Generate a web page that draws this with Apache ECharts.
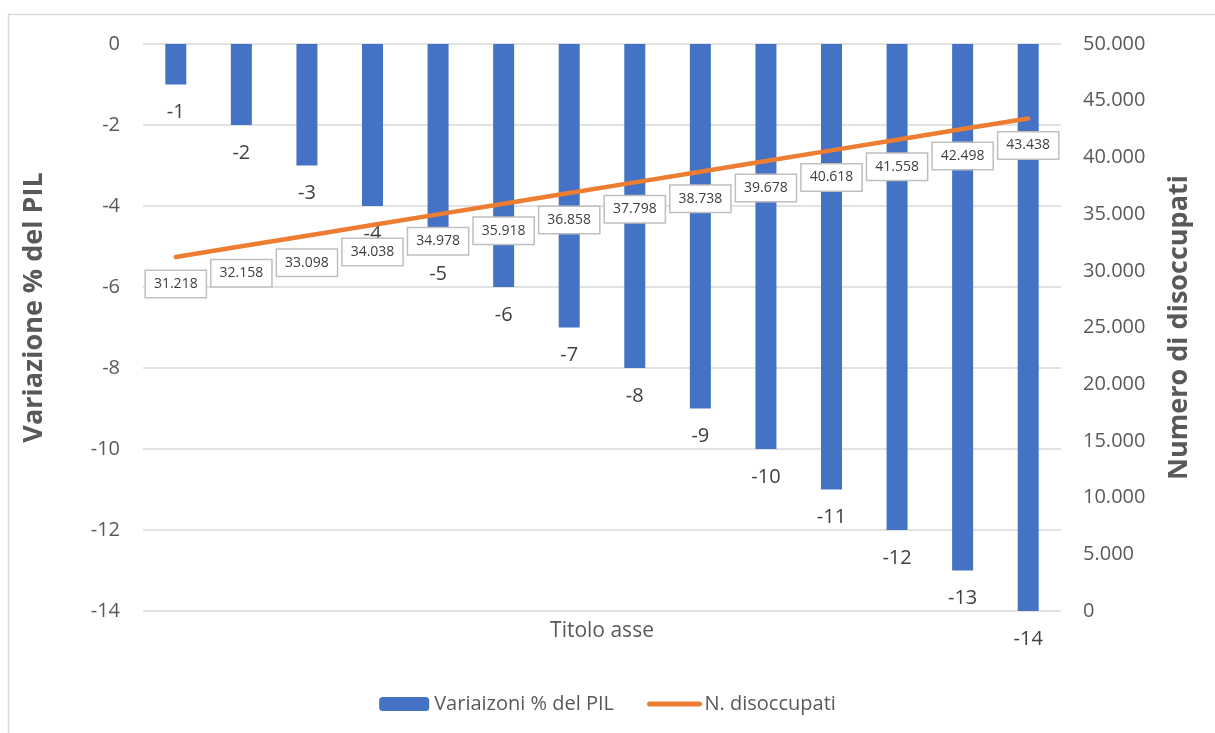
<!DOCTYPE html>
<html>
<head>
<meta charset="utf-8">
<script src="https://cdn.jsdelivr.net/npm/echarts@6/dist/echarts.min.js"></script>
<style>
  html, body { margin: 0; padding: 0; background: #fff; }
  #chart { width: 1215px; height: 733px; }
</style>
</head>
<body>
<div id="chart"></div>
<script>
// dati
const categorie = ['1','2','3','4','5','6','7','8','9','10','11','12','13','14'];
const variazionePil = [-1,-2,-3,-4,-5,-6,-7,-8,-9,-10,-11,-12,-13,-14];
const disoccupati = [31218,32158,33098,34038,34978,35918,36858,37798,38738,39678,40618,41558,42498,43438];

const grigio = '#595959';
const font = '"Open Sans", "Noto Sans", sans-serif';

// separatore migliaia all'italiana
function migliaia(v) {
  return String(Math.round(v)).replace(/\B(?=(\d{3})+(?!\d))/g, '.');
}

let chart = echarts.init(document.getElementById('chart'));
chart.setOption({
  animation: false,
  textStyle: { fontFamily: font },
  graphic: [{
    type: 'rect',
    shape: { x: 8.5, y: 14.5, width: 1300, height: 800 },
    style: { fill: 'none', stroke: '#D9D9D9', lineWidth: 1.5 },
    silent: true
  }],
  grid: { left: 143, right: 154, top: 44, bottom: 122 },
  legend: {
    bottom: 14,
    left: 'center',
    itemWidth: 50,
    itemHeight: 14,
    itemGap: 33,
    textStyle: { color: grigio, fontSize: 20, fontFamily: font },
    data: [
      { name: 'Variaizoni % del PIL' },
      { name: 'N. disoccupati', itemStyle: { opacity: 0 }, lineStyle: { width: 5, cap: 'round' } }
    ]
  },
  xAxis: {
    type: 'category',
    data: categorie,
    position: 'bottom',
    name: 'Titolo asse',
    nameLocation: 'middle',
    nameGap: 10,
    nameTextStyle: { color: grigio, fontSize: 21, verticalAlign: 'top' },
    axisLine: { show: false },
    axisTick: { show: false },
    axisLabel: { show: false }
  },
  yAxis: [{
    type: 'value',
    min: -14,
    max: 0,
    interval: 2,
    name: 'Variazione % del PIL',
    nameLocation: 'middle',
    nameGap: 95,
    nameRotate: 90,
    nameTextStyle: { color: grigio, fontSize: 27, fontWeight: 'bold', padding: [0, 0, 0, 40] },
    axisLine: { show: false },
    axisTick: { show: false },
    axisLabel: { color: grigio, fontSize: 20, margin: 23 },
    splitLine: { lineStyle: { color: '#D9D9D9', width: 1.5 } }
  }, {
    type: 'value',
    min: 0,
    max: 50000,
    interval: 5000,
    position: 'right',
    name: 'Numero di disoccupati',
    nameLocation: 'middle',
    nameGap: 105,
    nameRotate: 90,
    nameTextStyle: { color: grigio, fontSize: 27, fontWeight: 'bold' },
    axisLine: { show: false },
    axisTick: { show: false },
    axisLabel: { color: grigio, fontSize: 20, margin: 22, formatter: migliaia },
    splitLine: { show: false }
  }],
  series: [{
    name: 'Variaizoni % del PIL',
    type: 'bar',
    data: variazionePil,
    barWidth: 21,
    itemStyle: { color: '#4472C4' },
    label: {
      show: true,
      position: 'bottom',
      distance: 18,
      color: '#404040',
      fontSize: 20
    }
  }, {
    name: 'N. disoccupati',
    type: 'line',
    yAxisIndex: 1,
    data: disoccupati,
    symbol: 'circle',
    symbolSize: 2,
    showSymbol: true,
    lineStyle: { color: '#ED7D31', width: 4.5, cap: 'round' },
    itemStyle: { color: 'rgba(237,125,49,0)', borderWidth: 0 },
    label: {
      show: true,
      position: 'bottom',
      distance: 13,
      color: '#404040',
      fontSize: 14,
      backgroundColor: '#fff',
      borderColor: '#BFBFBF',
      borderWidth: 1.5,
      padding: [6, 8, 6, 8],
      formatter: p => migliaia(p.value)
    },
    labelLayout: { hideOverlap: false },
    z: 3
  }]
});
</script>
</body>
</html>
